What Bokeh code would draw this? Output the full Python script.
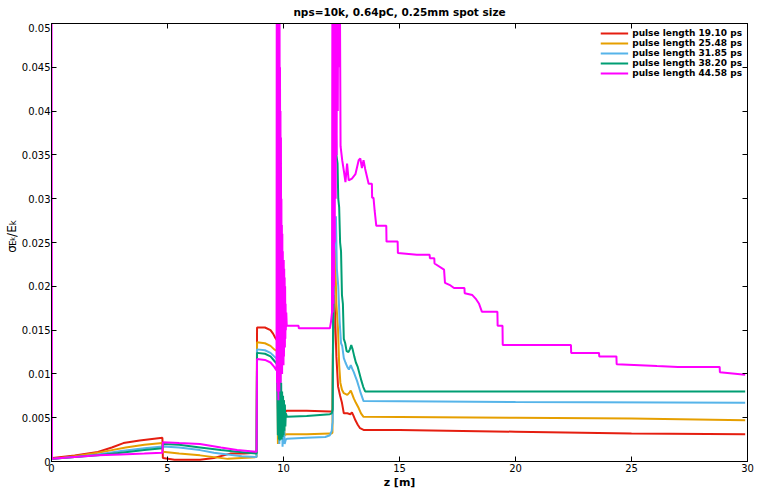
import math
from bokeh.plotting import figure
from bokeh.layouts import row, column
from bokeh.models import Range1d, FixedTicker, LinearAxis, Legend, LegendItem, Label
from bokeh.embed import file_html
from bokeh.resources import INLINE

FONT = "DejaVu Sans"

title_text = "nps=10k, 0.64pC, 0.25mm spot size"
x_label = "z [m]"
x_ticks = [0, 5, 10, 15, 20, 25, 30]
x_tick_labels = ["0", "5", "10", "15", "20", "25", "30"]
y_ticks = [0, 0.005, 0.01, 0.015, 0.02, 0.025, 0.03, 0.035, 0.04, 0.045, 0.05]
y_tick_labels = ["0", "0.005", "0.01", "0.015", "0.02", "0.025", "0.03", "0.035", "0.04", "0.045", "0.05"]

legend_labels = ["pulse length 19.10 ps", "pulse length 25.48 ps", "pulse length 31.85 ps",
                 "pulse length 38.20 ps", "pulse length 44.58 ps"]
colors = ["#e51e10", "#e69f00", "#56b4e9", "#009e73", "#ff00ff"]

# 19.10 ps
z_a = [0.0, 0.05, 1.0, 2.0, 2.6, 3.1, 3.8, 4.78, 4.80, 5.3, 6.4, 7.0, 7.7, 8.3, 8.84,
       8.86, 9.2, 9.44, 9.55, 9.65, 9.73, 9.76, 9.78, 9.80, 9.82, 9.85, 9.90, 9.95, 10.00, 10.05, 10.12, 11.0, 12.0, 12.08,
       12.11, 12.13, 12.18, 12.22, 12.28, 12.35, 12.44, 12.52, 12.60, 12.75, 12.88, 12.95, 13.02, 13.10, 13.20, 13.30, 13.45, 15.0, 20.0, 25.0, 29.9]
v_a = [0.0003, 0.0004, 0.0007, 0.0011, 0.0016, 0.0021, 0.0024, 0.0027, 0.0004, 0.0002, 0.0002, 0.0004, 0.0009, 0.0009, 0.0010,
       0.0153, 0.0153, 0.0150, 0.0146, 0.0141, 0.0138, 0.0060, 0.0120, 0.0040, 0.0100, 0.0050, 0.0080, 0.0050, 0.0070, 0.0055, 0.0058, 0.0058, 0.0057, 0.0057,
       0.0058, 0.0120, 0.0190, 0.0170, 0.0120, 0.0086, 0.0075, 0.0067, 0.0055, 0.0055, 0.0054, 0.0056, 0.0052, 0.0047, 0.0042, 0.0038, 0.0036, 0.0036, 0.0034, 0.0032, 0.0031]

# 25.48 ps
z_b = [0.0, 0.05, 1.0, 2.0, 2.6, 3.2, 4.0, 4.78, 4.80, 5.5, 6.4, 7.0, 7.6, 8.2, 8.84,
       8.86, 9.2, 9.44, 9.60, 9.73, 9.76, 9.78, 9.80, 9.83, 9.86, 9.90, 9.95, 10.00, 10.05, 10.12, 11.0, 12.0, 12.08,
       12.11, 12.13, 12.18, 12.22, 12.28, 12.35, 12.40, 12.45, 12.52, 12.60, 12.75, 12.85, 12.90, 12.96, 13.03, 13.12, 13.24, 13.34, 13.45, 20.0, 25.0, 29.9]
v_b = [0.0003, 0.0003, 0.0006, 0.0010, 0.0013, 0.0016, 0.0019, 0.0021, 0.0011, 0.0009, 0.0007, 0.0005, 0.0003, 0.0004, 0.0005,
       0.0136, 0.0135, 0.0132, 0.0128, 0.0126, 0.0020, 0.0100, 0.0022, 0.0080, 0.0030, 0.0060, 0.0028, 0.0050, 0.0030, 0.0031, 0.0031, 0.0032, 0.0032,
       0.0033, 0.0120, 0.0247, 0.0240, 0.0180, 0.0151, 0.0110, 0.0090, 0.0082, 0.0078, 0.0076, 0.0079, 0.0081, 0.0077, 0.0072, 0.0067, 0.0061, 0.0055, 0.0051, 0.0050, 0.0049, 0.0047]

# 31.85 ps
z_c = [0.0, 0.05, 1.0, 2.0, 3.0, 4.0, 4.80, 5.5, 6.4, 7.0, 7.6, 8.2, 8.84,
       8.86, 9.2, 9.44, 9.60, 9.73, 9.76, 9.79, 9.82, 9.85, 9.88, 9.92, 9.96, 10.00, 10.05, 10.10, 10.15, 11.0, 11.8, 12.0, 12.08,
       12.10, 12.12, 12.14, 12.20, 12.26, 12.30, 12.36, 12.42, 12.48, 12.53, 12.60, 12.67, 12.75, 12.82, 12.90, 12.96, 13.03, 13.10, 13.17, 13.25, 13.33, 13.45, 20.0, 29.9]
v_c = [0.0003, 0.0003, 0.0005, 0.0008, 0.0012, 0.0015, 0.0017, 0.0016, 0.0013, 0.0010, 0.0008, 0.0006, 0.0005,
       0.0128, 0.0127, 0.0124, 0.0120, 0.0117, 0.0030, 0.0100, 0.0020, 0.0090, 0.0025, 0.0070, 0.0017, 0.0060, 0.0020, 0.0025, 0.0026, 0.0027, 0.0028, 0.0030, 0.0035,
       0.0042, 0.0045, 0.0150, 0.0260, 0.0280, 0.0220, 0.0200, 0.0160, 0.0135, 0.0132, 0.0118, 0.0113, 0.0108, 0.0105, 0.0110, 0.0106, 0.0102, 0.0097, 0.0092, 0.0085, 0.0078, 0.0069, 0.0068, 0.0067]

# 38.20 ps
z_d = [0.0, 0.05, 1.0, 2.0, 3.0, 4.0, 4.78, 4.80, 5.5, 6.4, 7.3, 8.0, 8.84,
       8.86, 9.2, 9.44, 9.60, 9.73, 9.76, 9.78, 9.80, 9.82, 9.84, 9.86, 9.88, 9.90, 9.92, 9.94, 9.96, 9.98, 10.00, 10.02, 10.04, 10.06, 10.08, 10.10, 10.15, 11.0, 12.0, 12.08, 12.12,
       12.13, 12.18, 12.22, 12.28, 12.33, 12.36, 12.40, 12.44, 12.48, 12.52, 12.56, 12.60, 12.66, 12.72, 12.80, 12.86, 12.92, 12.98, 13.05, 13.12, 13.20, 13.28, 13.36, 13.44, 13.52, 29.9]
v_d = [0.0003, 0.0003, 0.0005, 0.0007, 0.0010, 0.0013, 0.0015, 0.0020, 0.0019, 0.0016, 0.0013, 0.0011, 0.0009,
       0.0124, 0.0123, 0.0120, 0.0115, 0.0111, 0.0030, 0.0110, 0.0025, 0.0105, 0.0024, 0.0100, 0.0030, 0.0090, 0.0025, 0.0080, 0.0028, 0.0075, 0.0030, 0.0070, 0.0035, 0.0065, 0.0040, 0.0055, 0.0051, 0.0052, 0.0054, 0.0055, 0.0060,
       0.0125, 0.0300, 0.0440, 0.0350, 0.0340, 0.0300, 0.0290, 0.0250, 0.0240, 0.0190, 0.0180, 0.0140, 0.0135, 0.0126, 0.0125, 0.0128, 0.0133, 0.0128, 0.0120, 0.0113, 0.0108, 0.0100, 0.0092, 0.0085, 0.0080, 0.0080]

# 44.58 ps
z_e = [0.0, 0.02, 1.0, 2.0, 3.0, 4.0, 4.78, 4.80, 5.5, 6.4, 7.3, 8.0, 8.84,
       8.86, 9.2, 9.44, 9.60, 9.70,
       9.71, 9.72, 9.73, 9.74, 9.75, 9.76, 9.77, 9.78, 9.79, 9.80, 9.81, 9.82, 9.83, 9.84, 9.85, 9.86, 9.87, 9.88, 9.89, 9.90, 9.91, 9.92, 9.93,
       9.94, 9.95, 9.96, 9.97, 9.98, 9.99, 10.00, 10.01, 10.02, 10.03, 10.04, 10.05, 10.06, 10.07, 10.08, 10.09, 10.10, 10.12, 10.14, 10.65, 10.66, 12.0, 12.05, 12.09,
       12.11, 12.12, 12.14, 12.15, 12.17, 12.18, 12.20, 12.21, 12.23, 12.25, 12.27, 12.29, 12.31, 12.34, 12.36, 12.40, 12.42, 12.46, 12.53, 12.60, 12.67, 12.74, 12.81,
       12.95, 13.10, 13.24, 13.31, 13.38, 13.45, 13.52, 13.67, 13.81, 13.82, 13.88, 13.93, 14.0, 14.43, 14.44, 14.92, 14.93, 15.75, 16.3, 16.31,
       16.5, 16.51, 16.92, 16.96, 17.2, 17.35, 17.8, 17.81, 18.14, 18.28, 18.43, 18.55, 19.22, 19.23, 19.44, 19.45, 22.39, 22.40, 23.6, 23.61,
       24.35, 24.36, 26.1, 27.0, 28.8, 28.81, 29.9]
v_e = [0.06, 0.0003, 0.0005, 0.0007, 0.0008, 0.0009, 0.0010, 0.0022, 0.0021, 0.0020, 0.0016, 0.0013, 0.0011,
       0.0117, 0.0116, 0.0113, 0.0108, 0.0104,
       0.06, 0.009, 0.06, 0.008, 0.06, 0.009, 0.06, 0.007, 0.06, 0.010, 0.06, 0.008, 0.055, 0.009, 0.045, 0.010, 0.040, 0.009, 0.037, 0.011, 0.030, 0.010, 0.027,
       0.010, 0.026, 0.012, 0.024, 0.011, 0.023, 0.011, 0.023, 0.012, 0.022, 0.013, 0.021, 0.013, 0.020, 0.014, 0.018, 0.015, 0.017, 0.0155, 0.0155, 0.0152, 0.0152, 0.0160, 0.0170,
       0.06, 0.017, 0.06, 0.018, 0.06, 0.020, 0.06, 0.025, 0.06, 0.030, 0.06, 0.035, 0.06, 0.040, 0.06, 0.045, 0.06, 0.036, 0.0344, 0.0332, 0.0319, 0.0340, 0.0321,
       0.0323, 0.0328, 0.0344, 0.0346, 0.0335, 0.0344, 0.0334, 0.0317, 0.0317, 0.0301, 0.0301, 0.0286, 0.0269, 0.0269, 0.0251, 0.0251, 0.0238, 0.0236, 0.0236, 0.0232,
       0.0232, 0.0226, 0.0219, 0.0204, 0.0201, 0.0198, 0.0198, 0.0192, 0.0190, 0.0186, 0.0180, 0.0171, 0.0171, 0.0155, 0.0155, 0.0133, 0.0133, 0.0124, 0.0124, 0.0120,
       0.0120, 0.0111, 0.0109, 0.0108, 0.0108, 0.0102, 0.0099]

series_z = [z_a, z_b, z_c, z_d, z_e]
series_v = [v_a, v_b, v_c, v_d, v_e]

TOTAL_W, TOTAL_H = 757, 491
TITLE_H = 23
LAB_W = 18
X0, X1, Y0, Y1 = 0, 30, 0, 0.05
MAIN_H = TOTAL_H - TITLE_H

# --- title strip (real Bokeh title, centred over the plot frame) ---
tfig = figure(width=TOTAL_W, height=TITLE_H, x_range=Range1d(0, 1), y_range=Range1d(0, 1),
              output_backend="svg", toolbar_location=None, x_axis_type=None, y_axis_type=None,
              min_border_left=51, min_border_right=10, min_border_top=0, min_border_bottom=0,
              outline_line_color=None)
tfig.xgrid.visible = False
tfig.ygrid.visible = False
tfig.title.text = title_text
tfig.title.align = "center"
tfig.title.vertical_align = "middle"
tfig.title.text_font = FONT
tfig.title.text_font_size = "10.5px"
tfig.title.text_font_style = "bold"
tfig.title.text_color = "black"
tfig.title.standoff = 8.5

# --- main plot ---
p = figure(width=TOTAL_W - LAB_W, height=MAIN_H, x_range=Range1d(X0, X1), y_range=Range1d(Y0, Y1),
           output_backend="svg", toolbar_location=None,
           min_border_left=51 - LAB_W, min_border_right=10, min_border_top=0, min_border_bottom=30)
p.xgrid.visible = False
p.ygrid.visible = False
p.outline_line_color = "black"
p.outline_line_width = 1


def style_axis(ax, ticks, labels, show):
    ax.ticker = FixedTicker(ticks=ticks)
    ax.major_label_overrides = {t: (l if show else "") for t, l in zip(ticks, labels)}
    ax.major_tick_in = 5
    ax.major_tick_out = 0
    ax.minor_tick_line_color = None
    ax.axis_line_color = "black"
    ax.major_tick_line_color = "black"
    ax.major_label_text_font = FONT
    ax.major_label_text_font_size = "10px" if show else "0px"
    ax.major_label_text_color = "black"
    ax.major_label_standoff = 2 if show else 0


style_axis(p.xaxis[0], x_ticks, x_tick_labels, True)
style_axis(p.yaxis[0], y_ticks, y_tick_labels, True)
p.yaxis[0].major_label_standoff = 1
p.xaxis[0].axis_label = x_label
p.xaxis[0].axis_label_text_font = FONT
p.xaxis[0].axis_label_text_font_size = "11px"
p.xaxis[0].axis_label_text_font_style = "bold"
p.xaxis[0].axis_label_text_color = "black"
p.xaxis[0].axis_label_standoff = 1

top_ax = LinearAxis()
style_axis(top_ax, x_ticks, x_tick_labels, False)
p.add_layout(top_ax, "above")
right_ax = LinearAxis()
style_axis(right_ax, y_ticks, y_tick_labels, False)
p.add_layout(right_ax, "right")

items = []
for zs, vs, col, lab in zip(series_z, series_v, colors, legend_labels):
    r = p.line(zs, vs, line_color=col, line_width=2)
    items.append(LegendItem(label=lab, renderers=[r]))

legend = Legend(items=items, location="top_right", border_line_color=None,
                background_fill_alpha=0, label_text_font=FONT, label_text_font_size="9px",
                label_text_font_style="bold", label_text_color="black",
                spacing=0, padding=4, margin=5, glyph_width=28, glyph_height=10,
                label_height=10, label_standoff=4)
p.add_layout(legend)

# --- narrow strip on the left carrying the y-axis label sigma_{E_k}/E_k (pixel coordinates) ---
ylab = figure(width=LAB_W, height=MAIN_H, x_range=Range1d(0, LAB_W), y_range=Range1d(MAIN_H, 0),
              output_backend="svg", toolbar_location=None, x_axis_type=None, y_axis_type=None,
              min_border=0, outline_line_color=None)
ylab.xgrid.visible = False
ylab.ygrid.visible = False

# (text, baseline x px, start y px on the page, font size)
ylabel_parts = [("σ", 11.0, 268, "12px"), ("E", 12.2, 260.5, "8.5px"), ("k", 12.6, 255, "6.5px"),
                ("/E", 11.0, 251, "12px"), ("k", 12.2, 238.5, "8.5px")]
for txt, bx, by, fs in ylabel_parts:
    ylab.add_layout(Label(x=bx, y=by - TITLE_H, text=txt, angle=math.pi / 2, text_align="left",
                          text_baseline="alphabetic", text_font=FONT, text_font_size=fs,
                          text_color="black"))

layout = column(tfig, row(ylab, p, spacing=0), spacing=0)
open("out.html", "w").write(file_html(layout, INLINE))
